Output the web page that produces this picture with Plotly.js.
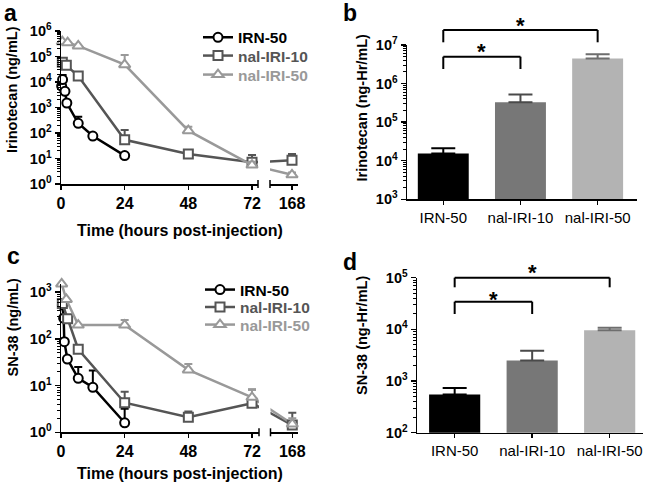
<!DOCTYPE html>
<html><head><meta charset="utf-8">
<script src="https://cdn.plot.ly/plotly-3.0.1.min.js"></script>
<style>html,body{margin:0;padding:0;background:#fff}#chart{width:650px;height:487px}</style>
</head><body><div id="chart"></div>
<script>
// ================= DATA =================
const seriesNames = ['IRN-50', 'nal-IRI-10', 'nal-IRI-50'];

// time-axis ticks (broken axis: 0-72 h, then 168 h)
const timeTicksMain = [0, 24, 48, 72];
const timeTickLabelsMain = ['0', '24', '48', '72'];
const timeTicksLate = [168];
const timeTickLabelsLate = ['168'];

// Panel a: Irinotecan plasma concentration (ng/mL)
const irnA_t = [0.25, 0.6, 1.5, 2.2, 6.5, 12, 24];
const irnA_y = [6900, 12500, 4300, 1500, 240, 76, 13];
const irnA_err = [0, 6500, 0, 0, 190, 0, 0];
const nal10A_t = [0.5, 2, 6.5, 24, 48, 72, 168];
const nal10A_y = [59000, 45000, 17000, 54, 15, 7.1, 8.5];
const nal10A_err = [12000, 0, 0, 77, 5, 6.6, 6.5];
const nal50A_t = [0.5, 2.5, 6.5, 24, 48, 72, 168];
const nal50A_y = [380000, 350000, 260000, 48000, 123, 5.5, 2.3];
const nal50A_err = [0, 0, 0, 67000, 54, 2, 0.5];

// Panel b: Irinotecan AUC (ng-Hr/mL)
const aucIrn = [15500, 330000, 4500000];
const aucIrnErr = [5500, 190000, 1300000];

// Panel c: SN-38 plasma concentration (ng/mL)
const irnC_t = [0.5, 1, 1.25, 2.4, 6.5, 12, 24];
const irnC_y = [534, 277, 87, 37, 14.3, 9.2, 1.6];
const irnC_err = [0, 0, 0, 0, 10.7, 11.8, 1.6];
const nal10C_t = [0.5, 2.5, 6.5, 24, 48, 72, 168];
const nal10C_y = [576, 270, 60, 4.3, 2.1, 4.2, 1.43];
const nal10C_err = [0, 0, 0, 3.1, 0.7, 4.1, 1.2];
const nal50C_t = [0.25, 2, 6.5, 24, 48, 72, 168];
const nal50C_y = [1500, 700, 198, 198, 21.7, 5.6, 1.5];
const nal50C_err = [0, 0, 0, 55, 7.3, 2.5, 0.5];

// Panel d: SN-38 AUC (ng-Hr/mL)
const aucSn = [550, 2500, 9600];
const aucSnErr = [180, 1360, 1100];

// log-axis tick labels
const ticksA = [1, 10, 100, 1e3, 1e4, 1e5, 1e6];
const tickTextA = ['10<sup>0</sup>', '10<sup>1</sup>', '10<sup>2</sup>', '10<sup>3</sup>', '10<sup>4</sup>', '10<sup>5</sup>', '10<sup>6</sup>'];
const ticksB = [1e3, 1e4, 1e5, 1e6, 1e7];
const tickTextB = ['10<sup>3</sup>', '10<sup>4</sup>', '10<sup>5</sup>', '10<sup>6</sup>', '10<sup>7</sup>'];
const ticksC = [1, 10, 100, 1e3];
const tickTextC = ['10<sup>0</sup>', '10<sup>1</sup>', '10<sup>2</sup>', '10<sup>3</sup>'];
const ticksD = [1e2, 1e3, 1e4, 1e5];
const tickTextD = ['10<sup>2</sup>', '10<sup>3</sup>', '10<sup>4</sup>', '10<sup>5</sup>'];

// ================= STYLE =================
const FONT = 'Liberation Sans, Arial, Helvetica, sans-serif';
const lineColors = ['#000000', '#555555', '#999999'];
const markerSymbols = ['circle', 'square', 'triangle-up'];
const markerSizes = [9, 9, 10];
const barColors = ['#000000', '#777777', '#b3b3b3'];
const barErrColors = ['#000000', '#4a4a4a', '#6e6e6e'];

const W = 650, H = 487;
const fx = p => p / W;
const fy = p => 1 - p / H;
const xk = n => n === 1 ? 'xaxis' : 'xaxis' + n;
const yk = n => n === 1 ? 'yaxis' : 'yaxis' + n;
const xr = n => n === 1 ? 'x' : 'x' + n;
const yr = n => n === 1 ? 'y' : 'y' + n;
const lk = n => n === 1 ? 'legend' : 'legend' + n;

const traces = [];
const layout = {
  width: W, height: H,
  margin: {l: 0, r: 0, t: 0, b: 0},
  paper_bgcolor: '#ffffff', plot_bgcolor: 'rgba(0,0,0,0)',
  font: {family: FONT, color: '#000000'},
  barmode: 'overlay',
  hovermode: false,
  showlegend: true,
  shapes: [], annotations: []
};

function logAxis(ydom, range, anchor, tv, tt) {
  return {
    type: 'log', domain: ydom, range: range, anchor: anchor,
    tickmode: 'array', tickvals: tv, ticktext: tt,
    ticks: 'outside', ticklen: 5, tickwidth: 1.5, tickcolor: '#000',
    showline: true, linewidth: 1.5, linecolor: '#000',
    showgrid: false, zeroline: false,
    minor: {ticks: 'outside', ticklen: 2.5, tickwidth: 1, tickcolor: '#000', dtick: 'D1', showgrid: false},
    tickfont: {family: FONT, size: 14.5, weight: 700, color: '#000'}
  };
}

function annot(text, x, y, size, opts) {
  layout.annotations.push(Object.assign({
    text: text, x: x, y: y, xref: 'paper', yref: 'paper',
    showarrow: false, xanchor: 'center', yanchor: 'middle',
    font: {family: FONT, size: size, weight: 700, color: '#000'}
  }, opts || {}));
}

function linePanel(cfg) {
  const k = cfg.pxPerHour;
  const s1Range = [timeTicksMain[0], timeTicksMain[0] + (cfg.seg1Px[1] - cfg.seg1Px[0]) / k];
  const late = timeTicksLate[0];
  const s2Range = [late - (cfg.lateTickPx - cfg.seg2Px[0]) / k, late + (cfg.seg2Px[1] - cfg.lateTickPx) / k];
  const ydom = [fy(cfg.yPx[1]), fy(cfg.yPx[0])];
  const Y = yr(cfg.ids.y);

  // connector geometry: the line across the axis break is straight on screen,
  // from the last point before the break (72 h) to the first point after it (168 h)
  const tA = timeTicksMain[timeTicksMain.length - 1];
  const tB = timeTicksLate[0];
  const pA = cfg.seg1Px[0] + (tA - s1Range[0]) * k;
  const pB = cfg.seg2Px[0] + (tB - s2Range[0]) * k;
  const sc = (pB - pA) / (tB - tA);

  const hidden = {visible: false, showgrid: false, zeroline: false, anchor: Y, autorange: false};
  layout[xk(cfg.ids.cA)] = Object.assign({domain: [fx(pA), fx(cfg.seg1Px[1])], range: [tA, tA + (cfg.seg1Px[1] - pA) / sc]}, hidden);
  layout[xk(cfg.ids.cB)] = Object.assign({domain: [fx(cfg.seg2Px[0]), fx(cfg.seg2Px[1])], range: [tB - (pB - cfg.seg2Px[0]) / sc, tB + (cfg.seg2Px[1] - pB) / sc]}, hidden);

  const xCommon = {
    anchor: Y, ticks: 'outside', ticklen: 4, tickwidth: 1.5, tickcolor: '#000',
    showline: true, linewidth: 1.5, linecolor: '#000', showgrid: false, zeroline: false,
    tickfont: {family: FONT, size: 16, weight: 700, color: '#000'}
  };
  layout[xk(cfg.ids.s1)] = Object.assign({domain: [fx(cfg.seg1Px[0]), fx(cfg.seg1Px[1])], range: s1Range,
    tickmode: 'array', tickvals: timeTicksMain, ticktext: timeTickLabelsMain}, xCommon);
  layout[xk(cfg.ids.s2)] = Object.assign({domain: [fx(cfg.seg2Px[0]), fx(cfg.seg2Px[1])], range: s2Range,
    tickmode: 'array', tickvals: timeTicksLate, ticktext: timeTickLabelsLate}, xCommon);
  layout[yk(cfg.ids.y)] = logAxis(ydom, cfg.yRange, xr(cfg.ids.s1), cfg.yTicks, cfg.yTickText);

  cfg.series.forEach((s, i) => {
    const col = lineColors[i];
    const mk = {symbol: markerSymbols[i], size: markerSizes[i], color: '#ffffff', line: {color: col, width: 2}};
    const pick = (cond) => {
      const idx = s.t.map((t, j) => j).filter(j => cond(s.t[j]));
      return {t: idx.map(j => s.t[j]), y: idx.map(j => s.y[j]), e: idx.map(j => s.e[j])};
    };
    const a = pick(t => t <= s1Range[1]);
    const b = pick(t => t >= s2Range[0]);
    const err = (arr) => ({type: 'data', symmetric: false, array: arr, arrayminus: arr.map(() => 0),
      color: col, thickness: 2, width: 4});
    // connectors first (their subplots are drawn beneath the markers)
    const iA = s.t.indexOf(tA), iB = s.t.indexOf(tB);
    if (iA >= 0 && iB >= 0) {
      [cfg.ids.cA, cfg.ids.cB].forEach(id => traces.push({
        type: 'scatter', mode: 'lines', x: [s.t[iA], s.t[iB]], y: [s.y[iA], s.y[iB]], xaxis: xr(id), yaxis: Y,
        line: {color: col, width: 2.5}, showlegend: false, hoverinfo: 'skip'
      }));
    }
    traces.push({
      type: 'scatter', mode: 'lines+markers', x: a.t, y: a.y, xaxis: xr(cfg.ids.s1), yaxis: Y,
      name: '<span style="color:' + col + '">' + seriesNames[i] + '</span>',
      legend: lk(cfg.legends[i]), showlegend: true,
      line: {color: col, width: 2.5}, marker: mk, error_y: err(a.e), cliponaxis: false
    });
    if (b.t.length) traces.push({
      type: 'scatter', mode: 'markers', x: b.t, y: b.y, xaxis: xr(cfg.ids.s2), yaxis: Y,
      showlegend: false, marker: mk, error_y: err(b.e), cliponaxis: false
    });
    layout[lk(cfg.legends[i])] = Object.assign({x: fx(cfg.legendX), y: fy(cfg.legendRows[i])}, legendBase);
  });

  // break marks at the axis gap
  const axY = cfg.yPx[1];
  [cfg.seg1Px[1], cfg.seg2Px[0]].forEach(p => layout.shapes.push({
    type: 'line', xref: 'paper', yref: 'paper', x0: fx(p), x1: fx(p), y0: fy(axY - 4), y1: fy(axY + 4),
    line: {color: '#000', width: 1.5}
  }));

  annot(cfg.xTitle, fx((cfg.seg1Px[0] + cfg.seg2Px[1]) / 2), fy(cfg.xTitleY), 16);
  annot(cfg.yTitle, fx(cfg.yTitleX), fy(cfg.yTitleY), 14.5, {textangle: -90});
}

function barPanel(cfg) {
  const X = xr(cfg.ids.x), Y = yr(cfg.ids.y);
  layout[xk(cfg.ids.x)] = {
    type: 'category', domain: [fx(cfg.xPx[0]), fx(cfg.xPx[1])], range: cfg.xRange, anchor: Y,
    ticks: 'outside', ticklen: 4, tickwidth: 1.5, tickcolor: '#000',
    showline: true, linewidth: 1.5, linecolor: '#000', showgrid: false, zeroline: false,
    tickfont: {family: FONT, size: 15, color: '#000'}
  };
  layout[yk(cfg.ids.y)] = logAxis([fy(cfg.yPx[1]), fy(cfg.yPx[0])], cfg.yRange, X, cfg.yTicks, cfg.yTickText);
  seriesNames.forEach((nm, i) => traces.push({
    type: 'bar', x: [nm], y: [cfg.values[i]], xaxis: X, yaxis: Y, width: 0.66,
    marker: {color: barColors[i], line: {width: 0}}, showlegend: false,
    error_y: {type: 'data', symmetric: false, array: [cfg.errors[i]], arrayminus: [0],
      color: barErrColors[i], thickness: 2, width: 12}
  }));
  // significance brackets
  cfg.brackets.forEach(b => {
    const seg = (x0, y0, x1, y1) => layout.shapes.push({type: 'line', xref: X, yref: 'paper',
      x0: x0, x1: x1, y0: fy(y0), y1: fy(y1), line: {color: '#000', width: 2}});
    seg(b.from, b.top, b.to, b.top);
    seg(b.from, b.top, b.from, b.leg);
    seg(b.to, b.top, b.to, b.leg);
    layout.annotations.push({text: '*', xref: X, yref: 'paper', x: (b.from + b.to) / 2, y: fy(b.star + 2.5),
      showarrow: false, xanchor: 'center', yanchor: 'middle', font: {family: FONT, size: 22, weight: 700, color: '#000'}});
  });
  annot(cfg.yTitle, fx(cfg.yTitleX), fy(cfg.yTitleY), 14.5, {textangle: -90});
}

// one legend box per entry so the rows can sit as tightly as in the original
const legendBase = {xanchor: 'left', yanchor: 'middle', bgcolor: 'rgba(0,0,0,0)', borderwidth: 0,
  font: {family: FONT, size: 15.5, weight: 700, color: '#000'}, itemwidth: 30, tracegroupgap: 0,
  itemclick: false, itemdoubleclick: false};

// ================= PANELS =================
linePanel({
  ids: {cA: 1, cB: 2, s1: 3, s2: 4, y: 1}, legends: [1, 3, 4], legendX: 198, legendRows: [37.7, 56, 75],
  seg1Px: [61, 258], seg2Px: [270, 298], lateTickPx: 292, pxPerHour: 2.653,
  yPx: [31, 184], yRange: [0, 6], yTicks: ticksA, yTickText: tickTextA,
  series: [{t: irnA_t, y: irnA_y, e: irnA_err}, {t: nal10A_t, y: nal10A_y, e: nal10A_err}, {t: nal50A_t, y: nal50A_y, e: nal50A_err}],
  xTitle: 'Time (hours post-injection)', xTitleY: 230,
  yTitle: 'Irinotecan (ng/mL)', yTitleX: 12, yTitleY: 90
});
barPanel({
  ids: {x: 5, y: 2}, xPx: [407, 637], xRange: [-0.47, 2.51],
  yPx: [45, 199.3], yRange: [3, 7], yTicks: ticksB, yTickText: tickTextB,
  values: aucIrn, errors: aucIrnErr,
  brackets: [{from: 0, to: 2, top: 30, leg: 42.3, star: 23.3}, {from: 0, to: 1, top: 56.7, leg: 69, star: 49.3}],
  yTitle: 'Irinotecan (ng-Hr/mL)', yTitleX: 362, yTitleY: 107.5
});
linePanel({
  ids: {cA: 6, cB: 7, s1: 8, s2: 9, y: 3}, legends: [2, 5, 6], legendX: 200, legendRows: [290, 307.5, 325],
  seg1Px: [61, 259], seg2Px: [270.5, 298], lateTickPx: 292.3, pxPerHour: 2.653,
  yPx: [283.5, 432.3], yRange: [0, 3.186], yTicks: ticksC, yTickText: tickTextC,
  series: [{t: irnC_t, y: irnC_y, e: irnC_err}, {t: nal10C_t, y: nal10C_y, e: nal10C_err}, {t: nal50C_t, y: nal50C_y, e: nal50C_err}],
  xTitle: 'Time (hours post-injection)', xTitleY: 473,
  yTitle: 'SN-38 (ng/mL)', yTitleX: 12, yTitleY: 327.5
});
barPanel({
  ids: {x: 10, y: 4}, xPx: [417, 643], xRange: [-0.486, 2.43],
  yPx: [277.7, 432.7], yRange: [2, 5], yTicks: ticksD, yTickText: tickTextD,
  values: aucSn, errors: aucSnErr,
  brackets: [{from: 0, to: 2, top: 277.7, leg: 287.3, star: 270}, {from: 0, to: 1, top: 301.7, leg: 314, star: 296.7}],
  yTitle: 'SN-38 (ng-Hr/mL)', yTitleX: 362, yTitleY: 336
});

// panel letters
annot('a', fx(1.5), fy(12.5), 23, {xanchor: 'left'});
annot('b', fx(341.5), fy(13.5), 23, {xanchor: 'left'});
annot('c', fx(4.5), fy(256), 23, {xanchor: 'left'});
annot('d', fx(341.5), fy(261.5), 23, {xanchor: 'left'});

Plotly.newPlot('chart', traces, layout, {staticPlot: true, displayModeBar: false});
</script>
</body></html>
